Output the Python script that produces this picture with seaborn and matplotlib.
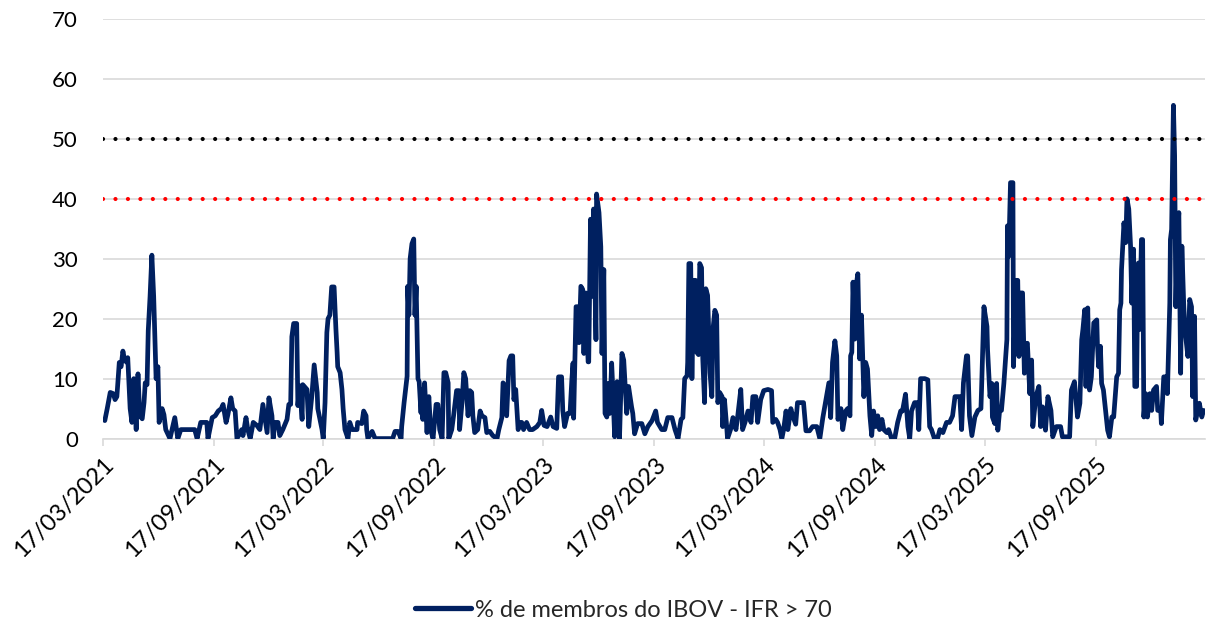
import numpy as np
import pandas as pd
import matplotlib
matplotlib.use("Agg")
import matplotlib.pyplot as plt
from matplotlib.lines import Line2D
import seaborn as sns

# Eixo de datas: 5 anos a partir de 17/03/2021
inicio = "2021-03-17"
fim = "2026-03-17"
ticks_x = ["2021-03-17", "2021-09-17", "2022-03-17", "2022-09-17", "2023-03-17",
           "2023-09-17", "2024-03-17", "2024-09-17", "2025-03-17", "2025-09-17"]

serie_nome = "% de membros do IBOV - IFR > 70"
linha_alerta = 40
linha_extrema = 50

# dias desde o inicio / % de membros com IFR > 70
dias_mar21 = [3, 7, 12, 17, 20, 23, 27, 30, 33, 36, 40, 41, 45, 48, 51, 55, 58, 61, 65, 68,
              70, 73, 75, 78, 81, 84, 88, 91, 93, 98, 101, 104, 111, 119, 124, 129, 144, 152,
              156, 162, 172, 174, 181]
pct_mar21 = [3, 5, 7.7, 7.5, 6.5, 7, 12.7, 12, 14.6, 13, 12.7, 13.5, 5, 2.7, 10, 1.5, 10.8,
             3.8, 3.3, 6, 9.3, 9, 18, 23.7, 30.6, 23.7, 10, 12, 2.7, 5, 4, 1.5, 0, 3.5, 0,
             1.5, 1.5, 1.5, 0, 2.7, 2.7, 0, 3.5]

dias_set21 = [186, 191, 196, 199, 204, 207, 212, 215, 219, 222, 230, 232, 237, 240, 244, 249,
              255, 260, 265, 272, 275, 280, 282, 285, 290, 293, 298, 305, 308, 311, 313, 316,
              321, 323, 326, 330, 331, 338, 341, 346, 350, 355, 356, 363]
pct_set21 = [3.8, 4.6, 5, 5.7, 2.7, 4, 6.8, 5, 4.6, 0, 1.5, 0.5, 3.5, 1.5, 0, 2.7, 2.2, 1.5,
             5.7, 1, 6.8, 3.8, 0, 2.7, 2.7, 0.5, 1.5, 3.2, 5.7, 5.7, 17, 19.2, 19.2, 5.5, 8.8,
             3.2, 9, 8.2, 2, 7, 12.3, 7.7, 5, 1.5]

dias_mar22 = [365, 368, 371, 373, 376, 379, 383, 386, 388, 389, 393, 396, 398, 401, 406, 409,
              413, 421, 422, 429, 432, 436, 437, 439, 446, 451, 480, 484, 489, 494, 495, 499,
              504, 505, 507, 509, 512, 515, 517, 519, 522, 524, 527, 528, 530, 533, 537, 540]
pct_mar22 = [0, 6, 17.7, 20, 20.6, 25.3, 25.3, 18.3, 14.4, 12, 11, 8.2, 5, 1.5, 0, 2.7, 1.5,
             1.5, 2.7, 2.5, 4.6, 3.8, 1.5, 0, 1.2, 0, 0, 1.2, 1.2, 0, 2, 6, 10.4, 25.4, 20.6,
             30, 32.5, 33.3, 20.6, 25.4, 10, 9.5, 4.3, 8.2, 3.2, 9.3, 1, 7]

dias_set22 = [543, 547, 552, 555, 558, 562, 565, 568, 572, 573, 578, 581, 586, 590, 591, 595,
              598, 601, 605, 608, 611, 613, 616, 621, 625, 628, 633, 636, 641, 646, 653, 656,
              661, 663, 666, 669, 673, 676, 679, 681, 684, 688, 691, 694, 697, 702, 707, 712,
              719, 724, 727]
pct_set22 = [1.5, 0, 5.7, 5.7, 1.5, 0, 11, 11, 9.3, 0, 1.5, 3.8, 8, 8, 1.5, 6, 11, 10, 3.8,
             8, 7.7, 3.8, 1, 1.5, 4.6, 3.8, 3.5, 1, 1.2, 0.5, 0, 1.5, 3.5, 9.3, 8.8, 3.8, 13,
             13.8, 13.8, 6.5, 8.2, 1.5, 2.7, 2.7, 1.5, 2.7, 1.5, 1.5, 2, 2.7, 4.7]

dias_mar23 = [731, 736, 742, 746, 752, 755, 760, 762, 765, 770, 774, 777, 779, 780, 784, 787,
              789, 792, 795, 797, 800, 804, 805, 808, 810, 813, 817, 818, 822, 825, 827, 830,
              832, 835, 837, 840, 843, 845, 848, 852, 853, 856, 860, 863, 868, 871, 876, 878,
              881, 886, 893, 898, 903, 910]
pct_mar23 = [2.2, 2, 3.6, 2, 1.7, 10.3, 10.3, 4.7, 2, 4.2, 4.2, 9.8, 12.6, 3.4, 22, 22, 16,
             25.4, 24.9, 14.2, 24.3, 12.8, 12.8, 36.6, 23.7, 38.3, 16.5, 40.8, 37.7, 32, 14.2,
             28.2, 4.2, 3.6, 9.2, 4.2, 12.6, 8, 0.3, 9.5, 5.3, 0, 14.2, 13.1, 4.2, 8.7, 5.3,
             4.2, 0.8, 2.5, 2.5, 0.8, 2, 3]

dias_set23 = [916, 919, 926, 931, 936, 943, 948, 953, 958, 961, 964, 968, 969, 971, 974, 976,
              979, 982, 984, 987, 989, 992, 994, 997, 999, 1002, 1006, 1009, 1011, 1014, 1017,
              1019, 1022, 1026, 1027, 1030, 1034, 1035, 1040, 1044, 1049, 1052, 1057, 1060,
              1064, 1069, 1074, 1077, 1082, 1085, 1090]
pct_set23 = [4.6, 2.7, 1.5, 1.5, 3.5, 3.5, 1.5, 0, 3.2, 3.5, 10, 10.5, 12.7, 29.2, 29.2, 10,
             26.4, 26.4, 14.4, 14, 29.2, 28.5, 13.3, 6, 25, 23.9, 11, 7, 18.3, 21.4, 20.6, 6,
             7.7, 7, 2, 6.5, 1.5, 0, 1.5, 3.5, 1.5, 3.8, 8.2, 1.5, 2.7, 4.6, 2.7, 7, 7, 2.7, 6.5]

dias_mar24 = [1095, 1102, 1108, 1110, 1115, 1118, 1122, 1125, 1128, 1132, 1135, 1140, 1143,
              1148, 1151, 1158, 1161, 1165, 1171, 1176, 1183, 1188, 1193, 1199, 1203, 1206,
              1209, 1213, 1216, 1218, 1223, 1226, 1231, 1234, 1238, 1239, 1241, 1243, 1246,
              1249, 1251, 1254, 1257, 1261, 1264, 1267, 1271, 1274]
pct_mar24 = [8, 8.2, 8, 2.7, 3.2, 2.7, 1.5, 0, 1.5, 4.6, 1.5, 5, 3.8, 2.4, 6, 6, 6, 1.3, 1.3,
             2, 2, 0, 3.5, 7, 9.3, 3.5, 12.7, 16.3, 13.8, 3.2, 5, 1.5, 4.6, 5, 3.8, 13.8, 14.4,
             26.1, 16.6, 26.1, 27.5, 13.3, 20.6, 7, 12.7, 11.6, 3.8, 0.5]

dias_set24 = [1277, 1281, 1284, 1287, 1291, 1294, 1299, 1302, 1307, 1312, 1317, 1322, 1325,
              1330, 1334, 1337, 1340, 1345, 1350, 1352, 1355, 1362, 1367, 1370, 1373, 1378,
              1383, 1387, 1392, 1398, 1403, 1408, 1412, 1416, 1420, 1423, 1426, 1431, 1433,
              1436, 1440, 1445, 1450, 1455, 1456]
pct_set24 = [4.6, 2, 3.8, 1.5, 3.2, 1.5, 1, 1.5, 0, 0, 2.7, 4.6, 4.6, 7.4, 2, 0, 4.6, 6, 6,
             1.5, 10, 10, 9.8, 2, 1.5, 0, 0, 1.5, 1, 2.7, 2.7, 3.8, 7, 7, 7, 1.5, 9.3, 13.8,
             13.8, 3.8, 0.5, 3.6, 4.7, 5, 8.1]

dias_mar25 = [1460, 1465, 1466, 1470, 1473, 1474, 1478, 1481, 1483, 1486, 1489, 1493, 1498,
              1499, 1501, 1504, 1508, 1509, 1513, 1516, 1518, 1521, 1524, 1527, 1531, 1532,
              1536, 1539, 1541, 1546, 1551, 1554, 1557, 1562, 1566, 1571, 1574, 1580, 1587,
              1590, 1602, 1605, 1610, 1615, 1619, 1622, 1624, 1627]
pct_mar25 = [22, 18.7, 14.8, 7, 9.2, 3.6, 2.5, 9.2, 1.4, 4.7, 4.7, 9.2, 16.5, 35.5, 30.4,
             42.7, 42.7, 12, 26.4, 26.4, 13.7, 24.3, 24.3, 10.9, 15.9, 15.9, 7.5, 13.1, 2, 7,
             8.7, 2, 5.3, 1.4, 7, 4.7, 0.3, 2, 2, 0.3, 0.3, 8.1, 9.5, 3.6, 5.9, 16.5, 18.2, 21.5]

dias_set25 = [1629, 1632, 1635, 1638, 1642, 1647, 1648, 1650, 1653, 1655, 1658, 1662, 1665,
              1668, 1672, 1675, 1680, 1683, 1685, 1687, 1688, 1692, 1695, 1697, 1700, 1703,
              1705, 1708, 1710, 1713, 1715, 1716, 1718, 1721, 1723, 1725, 1728, 1731, 1735,
              1738, 1741, 1746, 1748, 1753, 1754, 1758, 1763, 1764, 1768, 1769, 1771, 1774,
              1776, 1778, 1781, 1783, 1786, 1788, 1791, 1793, 1798, 1801, 1804, 1806, 1809,
              1811, 1814, 1817, 1821, 1824]
pct_set25 = [8.7, 21.8, 8.1, 10.3, 19.3, 19.8, 15.9, 12, 15.4, 9.2, 8.1, 4.2, 1.4, 0.3, 3.6,
             3.6, 10.3, 10.9, 21.5, 22.6, 28.2, 36, 32.7, 40, 38.3, 32.1, 22.6, 31.6, 8.7, 8.7,
             28.2, 29.3, 18.2, 33.2, 33.2, 3.6, 7.5, 3.6, 7.5, 4.7, 8.1, 8.7, 4.7, 4.7, 2.5,
             10.3, 10.3, 7.5, 22.6, 33.2, 34.9, 55.6, 47.2, 22, 34.4, 37.7, 10.9, 32.1, 22.6,
             18.2, 13.7, 23.2, 22, 7, 20.4, 3.1, 4.7, 5.9, 3.6, 4.7]

dias = (dias_mar21 + dias_set21 + dias_mar22 + dias_set22 + dias_mar23 + dias_set23
        + dias_mar24 + dias_set24 + dias_mar25 + dias_set25)
pct = (pct_mar21 + pct_set21 + pct_mar22 + pct_set22 + pct_mar23 + pct_set23
       + pct_mar24 + pct_set24 + pct_mar25 + pct_set25)

df = pd.DataFrame({
    "data": pd.Timestamp(inicio) + pd.to_timedelta(dias, unit="D"),
    "pct": pct,
})

cor_serie = "#002060"
cor_grade = "#d9d9d9"

sns.set_theme(style="white")
plt.rcParams["font.family"] = ["Lato", "DejaVu Sans"]

fig, ax = plt.subplots(figsize=(12.06, 6.27), dpi=100)
fig.subplots_adjust(left=0.0854, right=0.999, top=0.9697, bottom=0.3005)

sns.lineplot(data=df, x="data", y="pct", ax=ax, color=cor_serie, lw=3.4,
             estimator=None, sort=False, legend=False, zorder=3)

# linhas de referencia pontilhadas
ax.axhline(linha_alerta, color="#ff0000", lw=3, linestyle=(0, (0.01, 2.98)),
           dash_capstyle="round", zorder=5)
ax.axhline(linha_extrema, color="black", lw=3, linestyle=(0, (0.01, 2.98)),
           dash_capstyle="round", zorder=5)

ax.set_ylim(0, 70)
ax.set_yticks(np.arange(0, 71, 10))
ax.set_xlim(pd.Timestamp(inicio), pd.Timestamp(fim))
tick_datas = pd.to_datetime(ticks_x)
ax.set_xticks(tick_datas)
ax.set_xticklabels([d.strftime("%d/%m/%Y") for d in tick_datas],
                   rotation=45, ha="right", rotation_mode="anchor")
ax.set_xlabel("")
ax.set_ylabel("")

ax.grid(axis="y", color=cor_grade, lw=1.2)
ax.grid(axis="x", visible=False)
for lado in ["left", "right", "top"]:
    ax.spines[lado].set_visible(False)
ax.spines["bottom"].set_color(cor_grade)
ax.spines["bottom"].set_linewidth(1.2)
ax.tick_params(axis="x", bottom=True, length=5, width=1.2, color=cor_grade,
               labelsize=17, labelcolor="black", pad=6)
ax.tick_params(axis="y", length=0, labelsize=16, labelcolor="black", pad=18)

handle = Line2D([0], [0], color=cor_serie, lw=3.8)
fig.legend([handle], [serie_nome], loc="center", bbox_to_anchor=(0.5166, 0.027),
           frameon=False, fontsize=17, handlelength=2.4, handletextpad=0.15)

fig.savefig("out.png", dpi=100)
plt.close(fig)
